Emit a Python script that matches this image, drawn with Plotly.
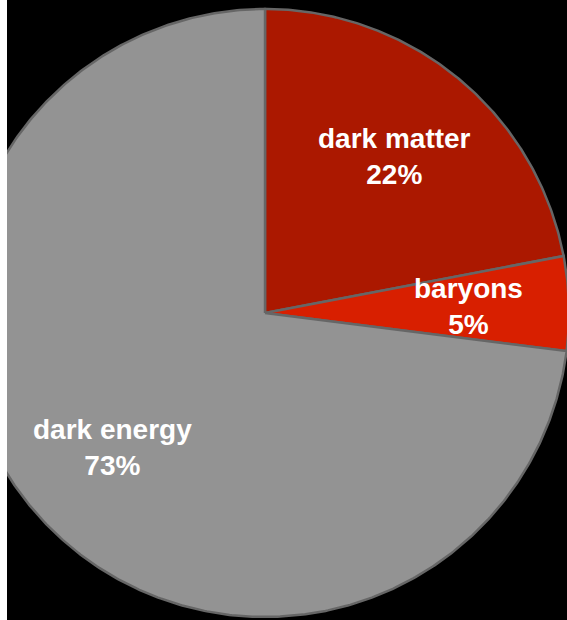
import numpy as np
import plotly.graph_objects as go

# Composition of the universe (percent)
labels = ["dark matter", "baryons", "dark energy"]
values = [22, 5, 73]
colors = ["#ab1800", "#d81f00", "#939393"]

R = 1.0            # pie radius in data units
LABEL_R = 0.67     # where slice labels sit, as a fraction of R

fig = go.Figure()

total = float(sum(values))
start = 0.0  # radians, clockwise from 12 o'clock
for name, val, col in zip(labels, values, colors):
    sweep = 2 * np.pi * val / total
    theta = np.linspace(start, start + sweep, max(int(sweep * 120), 8))
    xs = np.concatenate([[0.0], R * np.sin(theta), [0.0]])
    ys = np.concatenate([[0.0], R * np.cos(theta), [0.0]])
    fig.add_trace(go.Scatter(
        x=xs, y=ys, mode="lines", fill="toself", fillcolor=col,
        line=dict(color="#666666", width=2.5), hoverinfo="skip",
        showlegend=False, name=name,
    ))
    mid = start + sweep / 2
    fig.add_annotation(
        x=LABEL_R * R * np.sin(mid), y=LABEL_R * R * np.cos(mid),
        text=f"{name}<br>{val}%", showarrow=False,
        xanchor="center", yanchor="middle", align="center",
        font=dict(family="Liberation Sans, Arial, sans-serif", size=28,
                  color="white", weight=700),
    )
    start += sweep

fig.update_layout(
    width=567, height=620,
    margin=dict(l=7, r=0, t=0, b=0),
    paper_bgcolor="white", plot_bgcolor="black",
    xaxis=dict(range=[-0.8487, 0.9934], visible=False, fixedrange=True),
    yaxis=dict(range=[-1.0099, 1.0296], visible=False, fixedrange=True),
    showlegend=False,
)

fig.write_html("out.html")
